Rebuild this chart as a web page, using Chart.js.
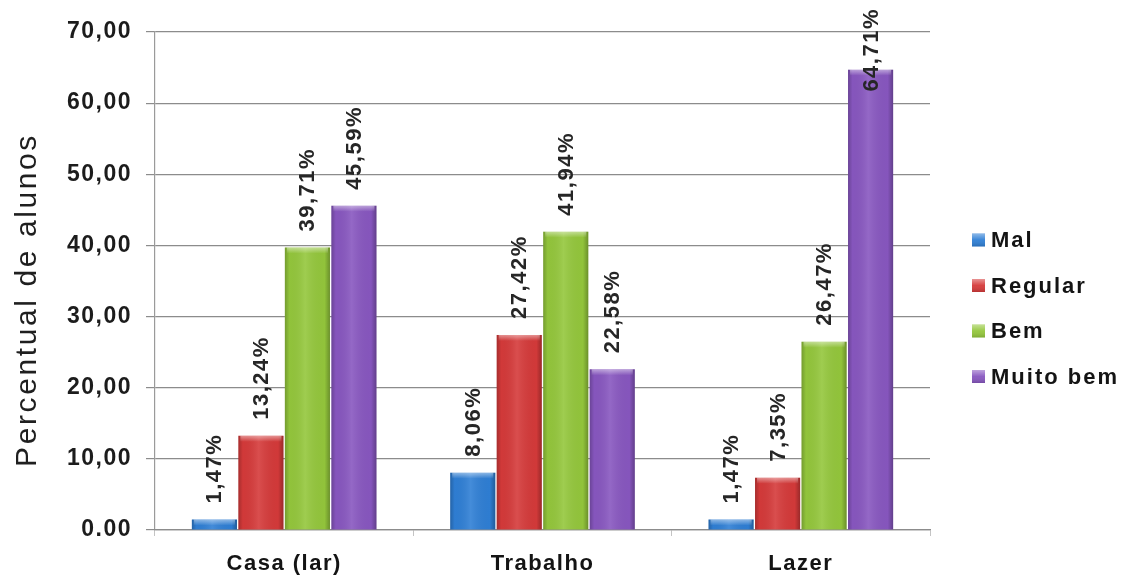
<!DOCTYPE html>
<html>
<head>
<meta charset="utf-8">
<script src="https://cdn.jsdelivr.net/npm/chart.js@4/dist/chart.umd.min.js"></script>
<style>
  html, body { margin: 0; padding: 0; background: #ffffff; }
  #wrap { width: 1128px; height: 582px; }
</style>
</head>
<body>
<div id="wrap"><canvas id="c" width="1128" height="582"></canvas></div>
<script>
// Categories and survey percentages per answer
const categories = ['Casa (lar)', 'Trabalho', 'Lazer'];
const seriesNames = ['Mal', 'Regular', 'Bem', 'Muito bem'];
const mal = [1.47, 8.06, 1.47];
const regular = [13.24, 27.42, 7.35];
const bem = [39.71, 41.94, 26.47];
const muitoBem = [45.59, 22.58, 64.71];
const yTickLabels = ['0.00', '10,00', '20,00', '30,00', '40,00', '50,00', '60,00', '70,00'];
const yTitle = 'Percentual de alunos';
const seriesColors = ['#2f7fd5', '#d53a3a', '#94c73c', '#8857c0'];

const FONT = '"Liberation Sans", Arial, sans-serif';
const seriesValues = [mal, regular, bem, muitoBem];

const fmtPct = v => v.toFixed(2).replace('.', ',') + '%';

// Wide text tracking for the axis text drawn by Chart.js
const trackingPlugin = {
  id: 'tracking',
  beforeLayout(chart) { chart.ctx.letterSpacing = '1.5px'; },
  beforeDraw(chart) { chart.ctx.letterSpacing = '1.5px'; }
};

// Bevel shading on top of each flat bar
const bevelPlugin = {
  id: 'bevel',
  afterDatasetsDraw(chart) {
    const ctx = chart.ctx;
    chart.data.datasets.forEach((ds, di) => {
      const meta = chart.getDatasetMeta(di);
      meta.data.forEach(bar => {
        const w = bar.width;
        const left = bar.x - w / 2;
        const top = bar.y;
        const h = bar.base - bar.y;
        ctx.save();
        const g = ctx.createLinearGradient(left, 0, left + w, 0);
        g.addColorStop(0, 'rgba(0,0,0,0.22)');
        g.addColorStop(0.1, 'rgba(0,0,0,0.02)');
        g.addColorStop(0.45, 'rgba(255,255,255,0.10)');
        g.addColorStop(0.88, 'rgba(0,0,0,0.02)');
        g.addColorStop(1, 'rgba(0,0,0,0.28)');
        ctx.fillStyle = g;
        ctx.fillRect(left, top, w, h);
        const bh = Math.min(6, h);
        const tg = ctx.createLinearGradient(0, top, 0, top + bh);
        tg.addColorStop(0, 'rgba(255,255,255,0.45)');
        tg.addColorStop(1, 'rgba(255,255,255,0.0)');
        ctx.fillStyle = tg;
        ctx.fillRect(left + 2, top, w - 4, bh);
        ctx.restore();
      });
    });
  }
};

// Rotated value labels above each bar
const valueLabelPlugin = {
  id: 'valueLabels',
  afterDatasetsDraw(chart) {
    const ctx = chart.ctx;
    ctx.save();
    ctx.font = 'bold 22px ' + FONT;
    ctx.letterSpacing = '1.5px';
    ctx.fillStyle = '#262626';
    ctx.textAlign = 'left';
    ctx.textBaseline = 'middle';
    chart.data.datasets.forEach((ds, di) => {
      const meta = chart.getDatasetMeta(di);
      meta.data.forEach((bar, i) => {
        const text = fmtPct(ds.data[i]);
        const len = ctx.measureText(text).width;
        let start = bar.y - 16;
        if (start - len < 8) start = 8 + len;
        ctx.save();
        ctx.translate(bar.x, start);
        ctx.rotate(-Math.PI / 2);
        ctx.fillText(text, 0, 1);
        ctx.restore();
      });
    });
    ctx.restore();
  }
};

// Axis title and legend on the right
const decorPlugin = {
  id: 'decor',
  afterDraw(chart) {
    const ctx = chart.ctx;
    ctx.save();
    ctx.translate(28, 300);
    ctx.rotate(-Math.PI / 2);
    ctx.font = '30px ' + FONT;
    ctx.letterSpacing = '2.6px';
    ctx.fillStyle = '#1f1f1f';
    ctx.textAlign = 'center';
    ctx.textBaseline = 'middle';
    ctx.fillText(yTitle, 0, 0);
    ctx.restore();

    ctx.save();
    ctx.font = 'bold 22px ' + FONT;
    ctx.letterSpacing = '2px';
    ctx.textAlign = 'left';
    ctx.textBaseline = 'middle';
    chart.data.datasets.forEach((ds, i) => {
      const y = 240 + i * 45.5;
      const x = 972, s = 13;
      ctx.fillStyle = ds.backgroundColor;
      ctx.fillRect(x, y - s / 2, s, s);
      const g = ctx.createLinearGradient(0, y - s / 2, 0, y + s / 2);
      g.addColorStop(0, 'rgba(255,255,255,0.45)');
      g.addColorStop(0.5, 'rgba(255,255,255,0.05)');
      g.addColorStop(1, 'rgba(0,0,0,0.15)');
      ctx.fillStyle = g;
      ctx.fillRect(x, y - s / 2, s, s);
      ctx.fillStyle = '#141414';
      ctx.fillText(ds.label, 991, y + 1);
    });
    ctx.restore();
  }
};

new Chart(document.getElementById('c'), {
  type: 'bar',
  data: {
    labels: categories,
    datasets: seriesNames.map((name, i) => ({
      label: name,
      data: seriesValues[i],
      backgroundColor: seriesColors[i],
      borderWidth: 0,
      categoryPercentage: 0.72,
      barPercentage: 0.97
    }))
  },
  options: {
    responsive: false,
    animation: false,
    devicePixelRatio: 1,
    layout: { padding: { left: 0, top: 32, right: 198, bottom: 0 } },
    plugins: {
      legend: { display: false },
      tooltip: { enabled: false },
      title: { display: false }
    },
    scales: {
      y: {
        min: 0,
        max: 70,
        afterFit(scale) { scale.width = 155; },
        ticks: {
          stepSize: 10,
          padding: 14,
          color: '#1c1c1c',
          font: { family: FONT, size: 23, weight: 'bold' },
          callback: v => yTickLabels[Math.round(v / 10)]
        },
        grid: { color: '#8c8c8c', lineWidth: 1.2, tickLength: 9 },
        border: { color: '#9a9a9a', width: 1.2 }
      },
      x: {
        afterFit(scale) { scale.height = 52; },
        ticks: {
          padding: 15,
          color: '#141414',
          font: { family: FONT, size: 22, weight: 'bold' }
        },
        grid: { drawOnChartArea: false, color: '#c4c4c4', tickLength: 6 },
        border: { color: '#8c8c8c', width: 1.2 }
      }
    }
  },
  plugins: [trackingPlugin, bevelPlugin, valueLabelPlugin, decorPlugin]
});
</script>
</body>
</html>
